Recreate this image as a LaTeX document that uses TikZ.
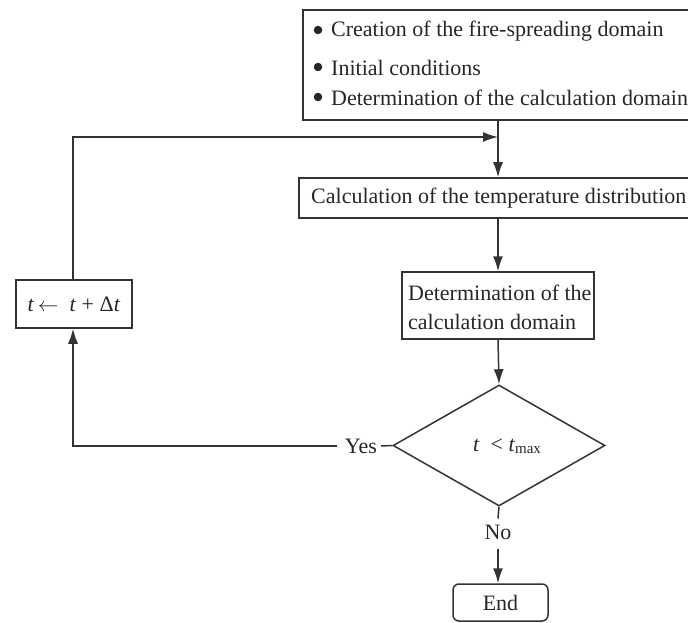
\documentclass[tikz,border=0pt]{standalone}
\usepackage{fontspec}
\setmainfont{Liberation Serif}
\usetikzlibrary{shapes.geometric,arrows.meta}
\begin{document}
\begin{tikzpicture}[x=1pt,y=-1pt,
  every node/.style={font=\fontsize{22}{26}\selectfont, text=black!85},
  box/.style={draw=black!80, line width=1.5pt, inner sep=0pt, rectangle},
  txt/.style={inner sep=0pt, anchor=west},
  line/.style={draw=black!80, line width=1.5pt},
  arr/.style={line, -{Latex[length=15pt,width=10pt]}},
  bul/.style={circle, fill=black!85, inner sep=0pt, minimum size=8.5pt}
]
\useasboundingbox (0,0) rectangle (688,623);
% top box
\node[box, minimum width=400pt, minimum height=110pt] (top) at (503,65) {};
\node[bul] (b1) at (318,30) {};
\node[txt] (l1) at (331,31) {Creation of the fire-spreading domain};
\node[bul] (b2) at (318,67) {};
\node[txt] (l2) at (331,68) {Initial conditions};
\node[bul] (b3) at (318,97) {};
\node[txt] (l3) at (331,98) {Determination of the calculation domain};
% temperature box
\node[box, minimum width=404pt, minimum height=40pt, anchor=west] (temp) at (298,198) {};
\node[txt] (tt) at (311,198) {Calculation of the temperature distribution};
% determination box
\node[box, minimum width=192pt, minimum height=67pt] (det) at (498,305.5) {};
\node[txt] (d1) at (408,293) {Determination of the};
\node[txt] (d2) at (408,322) {calculation domain};
% diamond
\node[draw=black!80, line width=1.5pt, diamond, inner sep=0pt, minimum width=212pt, minimum height=121pt] (dec) at (499,445.5) {};
\node[inner sep=0pt] (cond) at (507,446) {\textit{t}\ \ < \textit{t}{\fontsize{15}{15}\selectfont\raisebox{-2pt}{max}}};
% t box
\node[box, minimum width=116pt, minimum height=48pt] (tb) at (74,304) {\textit{t}\,$\leftarrow$\ \ \textit{t} + Δ\textit{t}};
% yes / no / end
\node[inner sep=0pt] (yes) at (361,446) {Yes};
\node[inner sep=0pt] (no) at (498,532) {No};
\node[box, rounded corners=6pt, minimum width=95pt, minimum height=37pt] (end) at (500.5,602.5) {End};
% connectors
\coordinate (j) at (498,137);
\coordinate (c) at (73,446);
\draw[arr] (top.south -| j) -- (temp.north -| j);
\draw[arr] (tb.north -| c) |- (j);
\draw[arr] (temp.south -| det.north) -- (det.north);
\draw[arr] (det.south) -- (dec.north);
\draw[line] (dec.west) -- ([xshift=4pt]yes.east);
\draw[arr] ([xshift=-8pt]yes.west) -- (c) -- (tb.south -| c);
\draw[line] (dec.south) -- ([yshift=6pt]no.north);
\draw[arr] ([yshift=-9pt]no.south) -- (end.north -| no);
\end{tikzpicture}
\end{document}
